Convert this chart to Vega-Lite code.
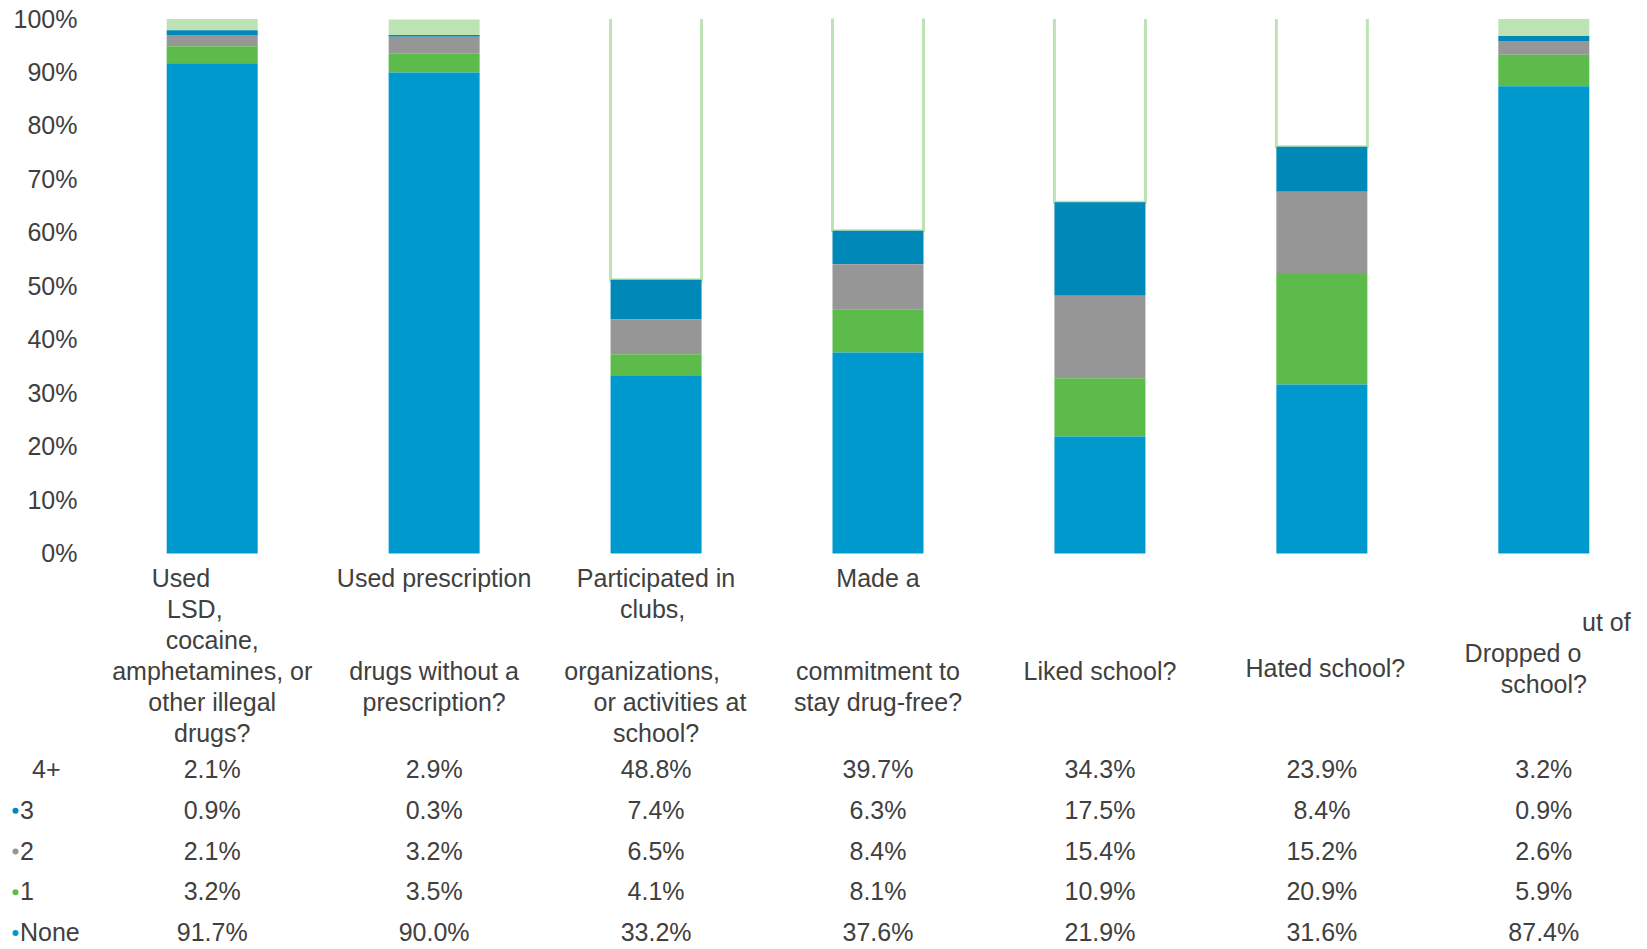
{
  "$schema": "https://vega.github.io/schema/vega-lite/v6.json",
  "width": 1538,
  "height": 534.5,
  "autosize": {"type": "none"},
  "padding": {"left": 109, "top": 19, "right": 0, "bottom": 395.5},
  "background": "#ffffff",
  "config": {"view": {"stroke": null}, "font": "Liberation Sans"},
  "datasets": {
    "main": [
      {"question": "Used LSD, cocaine, amphetamines, or other illegal drugs?", "cat": "4+", "k": 4, "value": 0.021},
      {"question": "Used LSD, cocaine, amphetamines, or other illegal drugs?", "cat": "3", "k": 3, "value": 0.009},
      {"question": "Used LSD, cocaine, amphetamines, or other illegal drugs?", "cat": "2", "k": 2, "value": 0.021},
      {"question": "Used LSD, cocaine, amphetamines, or other illegal drugs?", "cat": "1", "k": 1, "value": 0.032},
      {"question": "Used LSD, cocaine, amphetamines, or other illegal drugs?", "cat": "None", "k": 0, "value": 0.917},
      {"question": "Used prescription drugs without a prescription?", "cat": "4+", "k": 4, "value": 0.029},
      {"question": "Used prescription drugs without a prescription?", "cat": "3", "k": 3, "value": 0.003},
      {"question": "Used prescription drugs without a prescription?", "cat": "2", "k": 2, "value": 0.032},
      {"question": "Used prescription drugs without a prescription?", "cat": "1", "k": 1, "value": 0.035},
      {"question": "Used prescription drugs without a prescription?", "cat": "None", "k": 0, "value": 0.900},
      {"question": "Participated in clubs, organizations, or activities at school?", "cat": "4+", "k": 4, "value": 0.488},
      {"question": "Participated in clubs, organizations, or activities at school?", "cat": "3", "k": 3, "value": 0.074},
      {"question": "Participated in clubs, organizations, or activities at school?", "cat": "2", "k": 2, "value": 0.065},
      {"question": "Participated in clubs, organizations, or activities at school?", "cat": "1", "k": 1, "value": 0.041},
      {"question": "Participated in clubs, organizations, or activities at school?", "cat": "None", "k": 0, "value": 0.332},
      {"question": "Made a commitment to stay drug-free?", "cat": "4+", "k": 4, "value": 0.397},
      {"question": "Made a commitment to stay drug-free?", "cat": "3", "k": 3, "value": 0.063},
      {"question": "Made a commitment to stay drug-free?", "cat": "2", "k": 2, "value": 0.084},
      {"question": "Made a commitment to stay drug-free?", "cat": "1", "k": 1, "value": 0.081},
      {"question": "Made a commitment to stay drug-free?", "cat": "None", "k": 0, "value": 0.376},
      {"question": "Liked school?", "cat": "4+", "k": 4, "value": 0.343},
      {"question": "Liked school?", "cat": "3", "k": 3, "value": 0.175},
      {"question": "Liked school?", "cat": "2", "k": 2, "value": 0.154},
      {"question": "Liked school?", "cat": "1", "k": 1, "value": 0.109},
      {"question": "Liked school?", "cat": "None", "k": 0, "value": 0.219},
      {"question": "Hated school?", "cat": "4+", "k": 4, "value": 0.239},
      {"question": "Hated school?", "cat": "3", "k": 3, "value": 0.084},
      {"question": "Hated school?", "cat": "2", "k": 2, "value": 0.152},
      {"question": "Hated school?", "cat": "1", "k": 1, "value": 0.209},
      {"question": "Hated school?", "cat": "None", "k": 0, "value": 0.316},
      {"question": "Dropped out of school?", "cat": "4+", "k": 4, "value": 0.032},
      {"question": "Dropped out of school?", "cat": "3", "k": 3, "value": 0.009},
      {"question": "Dropped out of school?", "cat": "2", "k": 2, "value": 0.026},
      {"question": "Dropped out of school?", "cat": "1", "k": 1, "value": 0.059},
      {"question": "Dropped out of school?", "cat": "None", "k": 0, "value": 0.874}
    ],
    "rows": [
      {"cat": "4+"},
      {"cat": "3"},
      {"cat": "2"},
      {"cat": "1"},
      {"cat": "None"}
    ]
  },
  "layer": [
    {
      "data": {"name": "main"},
      "mark": {"type": "bar", "strokeDash": [0, 91, 3000]},
      "encoding": {
        "x": {
          "field": "question", "type": "nominal", "sort": null,
          "scale": {"type": "band", "domain": ["Used LSD, cocaine, amphetamines, or other illegal drugs?", "Used prescription drugs without a prescription?", "Participated in clubs, organizations, or activities at school?", "Made a commitment to stay drug-free?", "Liked school?", "Hated school?", "Dropped out of school?"], "paddingInner": 0.59, "paddingOuter": 0.26},
          "axis": {
            "orient": "bottom",
            "title": null, "domain": false, "ticks": false, "tickSize": 0, "labelAngle": 0,
            "labelAlign": "center", "labelBaseline": "top", "labelFontSize": 25, "labelLineHeight": 31,
            "labelColor": "#404040", "labelLimit": 600, "labelOverlap": false, "labelFlush": false,
            "labelPadding": {"condition": [{"test": "datum.value === 'Dropped out of school?'", "value": 57}, {"test": "datum.value === 'Hated school?'", "value": 103}, {"test": "datum.value === 'Liked school?'", "value": 106}], "value": 13},
            "labelExpr": "datum.value === 'Used LSD, cocaine, amphetamines, or other illegal drugs?' ? ['Used\u00a0\u00a0\u00a0\u00a0\u00a0\u00a0\u00a0\u00a0\u00a0\u200b', 'LSD,\u00a0\u00a0\u00a0\u00a0\u00a0\u200b', 'cocaine,', 'amphetamines, or', 'other illegal', 'drugs?'] : datum.value === 'Used prescription drugs without a prescription?' ? 'Used prescription' : datum.value === 'Participated in clubs, organizations, or activities at school?' ? ['Participated in', 'clubs,\u00a0\u200b'] : datum.value === 'Made a commitment to stay drug-free?' ? 'Made a' : datum.value === 'Liked school?' ? 'Liked school?' : datum.value === 'Hated school?' ? '\u200b\u00a0Hated school?' : ['\u200b\u00a0\u00a0\u00a0\u00a0\u00a0\u00a0\u00a0\u00a0\u00a0\u00a0\u00a0\u00a0\u00a0\u00a0\u00a0\u00a0\u00a0\u00a0ut of', 'Dropped o\u00a0\u00a0\u00a0\u00a0\u00a0\u00a0\u200b', 'school?']"
          }
        },
        "y": {
          "field": "value", "type": "quantitative", "stack": "zero",
          "scale": {"domain": [0, 1]},
          "axis": {"title": null, "format": ".0%", "values": [0, 0.1, 0.2, 0.3, 0.4, 0.5, 0.6, 0.7, 0.8, 0.9, 1], "grid": false, "domain": false, "ticks": false, "tickSize": 0, "labelPadding": 32, "labelFontSize": 25, "labelColor": "#404040"}
        },
        "fill": {
          "condition": {"test": "datum.cat === '4+' && datum.value > 0.1", "value": "#ffffff"},
          "field": "cat", "type": "nominal",
          "scale": {"domain": ["4+", "3", "2", "1", "None"], "range": ["#BDE3B4", "#0088B8", "#969696", "#5CBB4A", "#0099CE"]},
          "legend": null
        },
        "stroke": {"condition": {"test": "datum.cat === '4+' && datum.value > 0.1", "value": "#BDE3B4"}, "value": "transparent"},
        "strokeWidth": {"condition": {"test": "datum.cat === '4+' && datum.value > 0.1", "value": 3}, "value": 0},
        "order": {"field": "k", "type": "quantitative"}
      }
    },
    {
      "data": {"name": "main"},
      "mark": {"type": "text", "fontSize": 25, "color": "#404040", "align": "center", "baseline": "middle"},
      "encoding": {
        "x": {
          "field": "question", "type": "nominal", "sort": null,
          "scale": {"type": "band", "domain": ["Used LSD, cocaine, amphetamines, or other illegal drugs?", "Used prescription drugs without a prescription?", "Participated in clubs, organizations, or activities at school?", "Made a commitment to stay drug-free?", "Liked school?", "Hated school?", "Dropped out of school?"], "paddingInner": 0.59, "paddingOuter": 0.26},
          "axis": {
            "orient": "bottom",
            "values": ["Used prescription drugs without a prescription?", "Participated in clubs, organizations, or activities at school?", "Made a commitment to stay drug-free?"],
            "title": null, "domain": false, "ticks": false, "tickSize": 0, "labelAngle": 0,
            "labelAlign": "center", "labelBaseline": "top", "labelFontSize": 25, "labelLineHeight": 31,
            "labelColor": "#404040", "labelLimit": 600, "labelOverlap": false, "labelFlush": false,
            "labelPadding": 106,
            "labelExpr": "datum.value === 'Used prescription drugs without a prescription?' ? ['drugs without a', 'prescription?'] : datum.value === 'Participated in clubs, organizations, or activities at school?' ? ['organizations,\u00a0\u00a0\u00a0\u00a0\u200b', '\u200b\u00a0\u00a0\u00a0\u00a0or activities at', 'school?'] : ['commitment to', 'stay drug-free?']"
          }
        },
        "y": {"field": "cat", "type": "nominal", "scale": {"type": "point", "domain": ["4+", "3", "2", "1", "None"], "range": [751, 914], "padding": 0}, "axis": null},
        "text": {"field": "value", "type": "quantitative", "format": ".1%"}
      }
    },
    {
      "data": {"name": "rows"},
      "transform": [{"filter": "datum.cat !== '4+'"}],
      "mark": {"type": "text", "fontSize": 25, "color": "#404040", "align": "left", "baseline": "middle"},
      "encoding": {
        "x": {"datum": "label", "type": "nominal", "scale": {"type": "point", "domain": ["bullet", "label"], "range": [-93.5, -89], "padding": 0}, "axis": null},
        "y": {"field": "cat", "type": "nominal", "scale": {"type": "point", "domain": ["4+", "3", "2", "1", "None"], "range": [751, 914], "padding": 0}, "axis": null},
        "text": {"field": "cat", "type": "nominal"}
      }
    },
    {
      "data": {"name": "rows"},
      "transform": [{"filter": "datum.cat === '4+'"}],
      "mark": {"type": "text", "fontSize": 25, "color": "#404040", "align": "left", "baseline": "middle", "dx": 12},
      "encoding": {
        "x": {"datum": "label", "type": "nominal", "scale": {"type": "point", "domain": ["bullet", "label"], "range": [-93.5, -89], "padding": 0}, "axis": null},
        "y": {"field": "cat", "type": "nominal", "scale": {"type": "point", "domain": ["4+", "3", "2", "1", "None"], "range": [751, 914], "padding": 0}, "axis": null},
        "text": {"field": "cat", "type": "nominal"}
      }
    },
    {
      "data": {"name": "rows"},
      "transform": [{"filter": "datum.cat !== '4+'"}],
      "mark": {"type": "point", "filled": true, "size": 36, "shape": "circle", "opacity": 1},
      "encoding": {
        "x": {"datum": "bullet", "type": "nominal", "scale": {"type": "point", "domain": ["bullet", "label"], "range": [-93.5, -89], "padding": 0}, "axis": null},
        "y": {"field": "cat", "type": "nominal", "scale": {"type": "point", "domain": ["4+", "3", "2", "1", "None"], "range": [751, 914], "padding": 0}, "axis": null},
        "fill": {"field": "cat", "type": "nominal", "legend": null}
      }
    }
  ],
  "resolve": {"scale": {"x": "independent", "y": "independent"}}
}
